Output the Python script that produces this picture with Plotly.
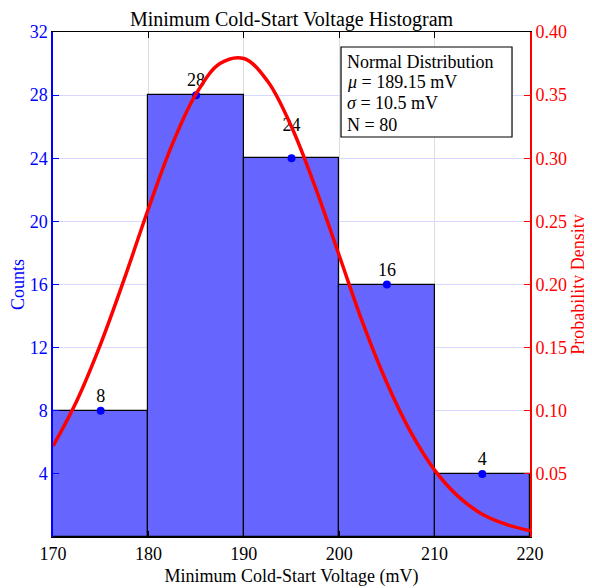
import plotly.graph_objects as go

bin_centers = [175, 185, 195, 205, 215]
counts = [8, 28, 24, 16, 4]
bin_width = 10

curve_x = [170, 172.5, 175, 177.5, 180, 182.5, 185, 187.5, 190, 192.5, 195,
           197.5, 200, 202.5, 205, 207.5, 210, 212.5, 215, 217.5, 220]
curve_y = [0.072, 0.108, 0.153, 0.205, 0.260, 0.311, 0.351, 0.375, 0.379, 0.361, 0.325,
           0.277, 0.223, 0.169, 0.122, 0.083, 0.053, 0.032, 0.018, 0.010, 0.005]

count_ticks = [4, 8, 12, 16, 20, 24, 28, 32]
density_ticks = [0.05, 0.10, 0.15, 0.20, 0.25, 0.30, 0.35, 0.40]
x_ticks = [170, 180, 190, 200, 210, 220]

info_lines = ["Normal Distribution", "<i>μ</i> = 189.15 mV", "<i>σ</i> = 10.5 mV", "N = 80"]

# label offsets above each dot (in count units, style only)
label_offsets = [0.85, 0.85, 2.0, 0.85, 0.85]

FONT = "Liberation Serif, Times New Roman, serif"

fig = go.Figure()
fig.add_trace(go.Bar(x=bin_centers, y=counts, width=[bin_width]*len(counts),
                     marker=dict(color="#6666FF", line=dict(color="black", width=1.2)),
                     showlegend=False, yaxis="y"))
fig.add_trace(go.Scatter(x=bin_centers, y=counts, mode="markers",
                         marker=dict(color="#0000FF", size=8), showlegend=False, yaxis="y"))
fig.add_trace(go.Scatter(x=bin_centers, y=[c + o for c, o in zip(counts, label_offsets)], mode="text",
                         text=[str(c) for c in counts], textposition="middle center",
                         textfont=dict(family=FONT, size=18, color="black"),
                         showlegend=False, yaxis="y"))
fig.add_trace(go.Scatter(x=curve_x, y=curve_y, mode="lines", line=dict(color="#FF0000", width=3.5, shape="spline"),
                         showlegend=False, yaxis="y2"))

# info box (paper coords)
fig.add_shape(type="rect", xref="paper", yref="paper", x0=0.6038, x1=0.9623, y0=0.7921, y1=0.9703,
              line=dict(color="black", width=1.2), fillcolor="white", layer="above")
line_y = [0.9406, 0.9010, 0.8594, 0.8158]
for txt, yy in zip(info_lines, line_y):
    fig.add_annotation(xref="paper", yref="paper", x=0.6122, y=yy, xanchor="left", yanchor="middle",
                       text=txt, showarrow=False, font=dict(family=FONT, size=18, color="black"))

# page body has an 8px margin, so figure is 8px smaller and margins shifted
fig.update_layout(
    width=584, height=580,
    margin=dict(l=45, r=62, t=24, b=51),
    paper_bgcolor="white", plot_bgcolor="white",
    font=dict(family=FONT, size=18, color="black"),
    title=dict(text="Minimum Cold-Start Voltage Histogram", x=0.5, xanchor="center", xref="paper",
               y=1 - 10.5 / 580, yref="container", yanchor="middle", automargin=False,
               font=dict(family=FONT, size=20, color="black")),
    bargap=0,
    xaxis=dict(range=[170, 220], tickvals=x_ticks, showgrid=True, gridcolor="#dddddd",
               showline=True, linecolor="black", linewidth=1.2, mirror="ticks",
               ticks="inside", ticklen=6, tickcolor="black", automargin=False,
               tickfont=dict(family=FONT, size=18, color="black"),
               title=dict(text="Minimum Cold-Start Voltage (mV)", font=dict(family=FONT, size=18), standoff=6),
               zeroline=False),
    yaxis=dict(range=[0, 32], tickvals=count_ticks, showgrid=True, gridcolor="#d8d8ff",
               showline=True, linecolor="#0000FF", linewidth=1.5, ticks="inside", ticklen=6,
               tickcolor="#0000FF", tickfont=dict(family=FONT, size=18, color="#0000FF"), automargin=False,
               title=dict(text="Counts", font=dict(family=FONT, size=18, color="#0000FF"), standoff=2),
               zeroline=False),
    yaxis2=dict(range=[0, 0.4], tickvals=density_ticks, ticktext=[f"{v:.2f}" for v in density_ticks],
                overlaying="y", side="right", showgrid=False, showline=True, linecolor="#FF0000",
                linewidth=2, ticks="inside", ticklen=6, tickcolor="#FF0000", automargin=False,
                tickfont=dict(family=FONT, size=18, color="#FF0000"),
                title=dict(text="Probability Density", font=dict(family=FONT, size=18, color="#FF0000"), standoff=5),
                zeroline=False),
)

fig.write_html("out.html")
